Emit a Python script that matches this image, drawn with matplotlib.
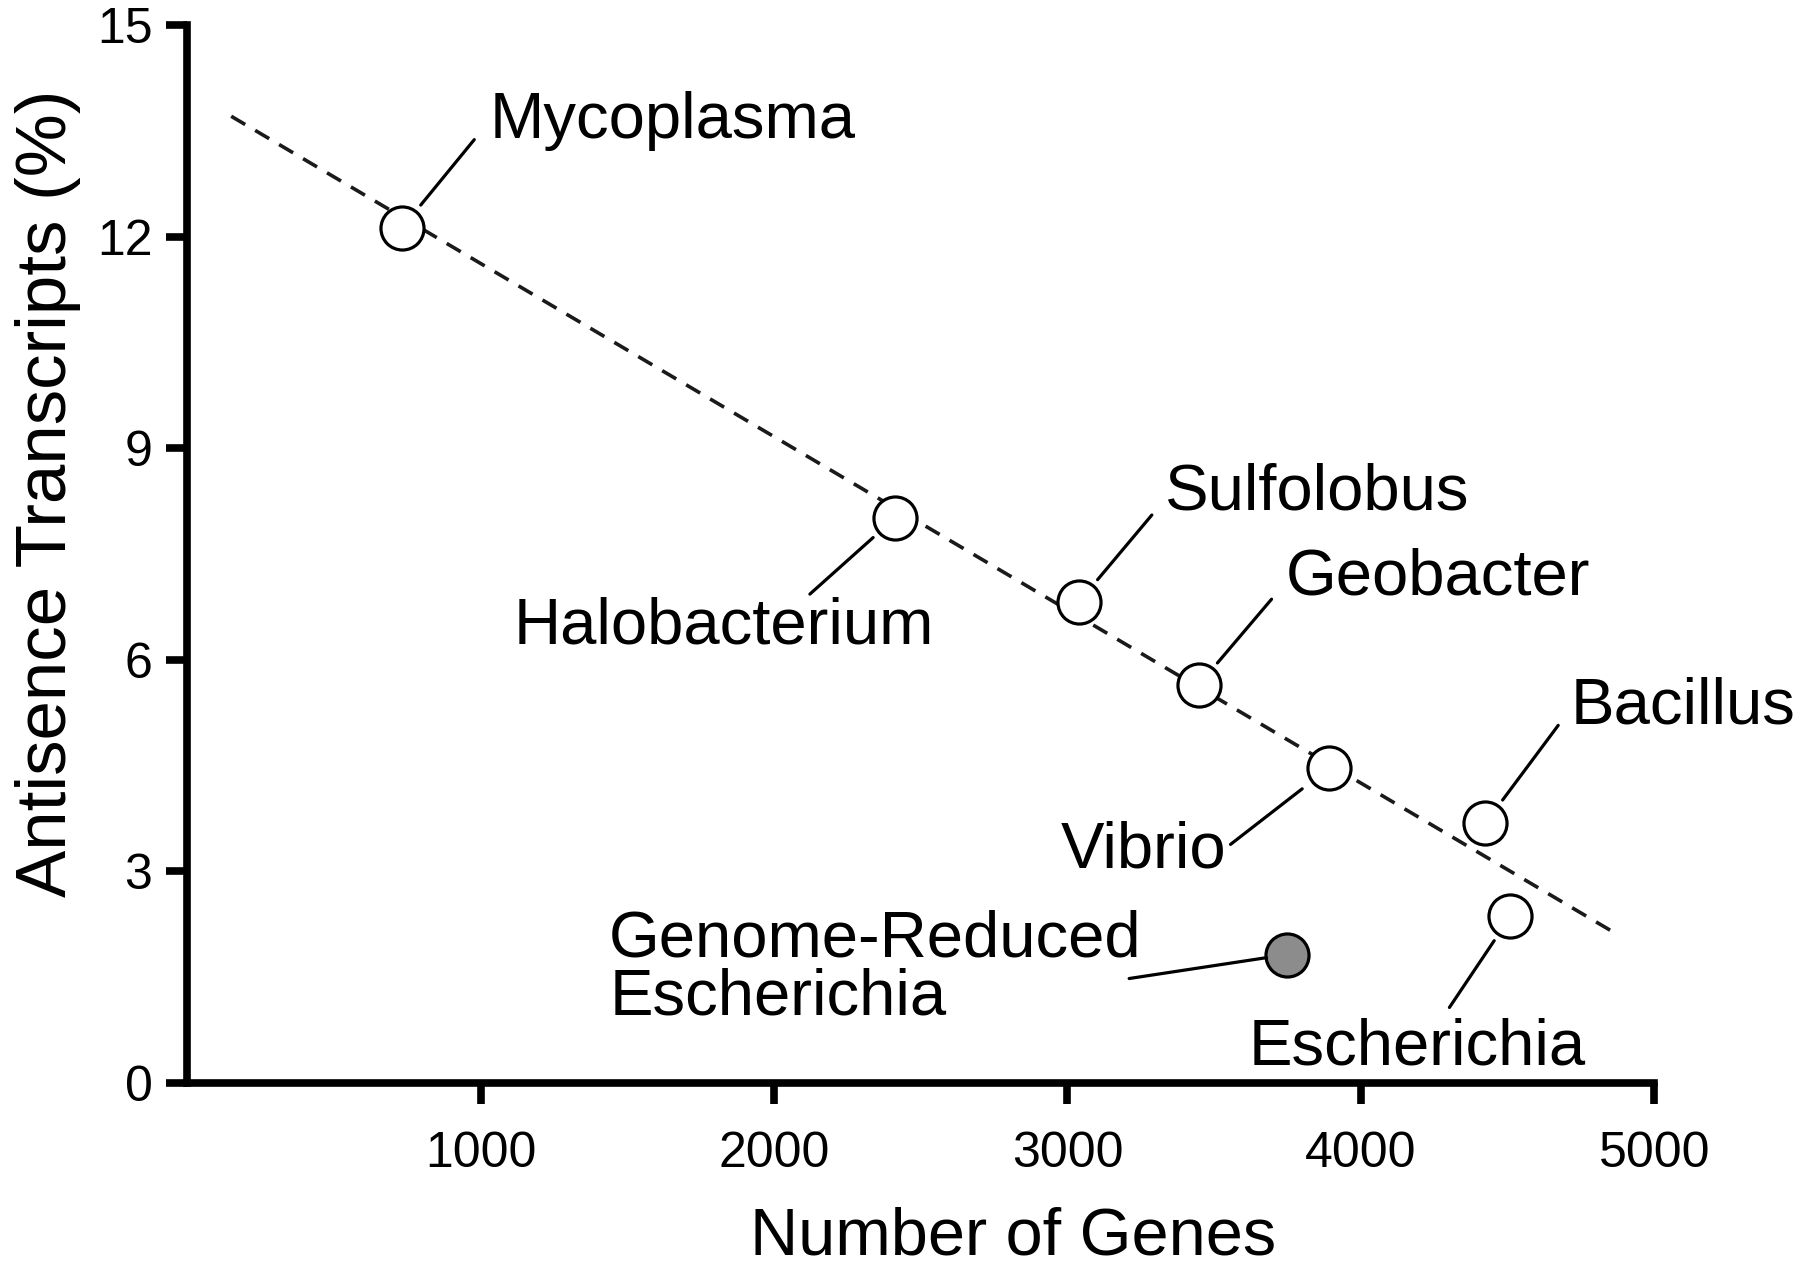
import matplotlib
matplotlib.use("Agg")
import matplotlib.pyplot as plt

# ---------------------------------------------------------------------------
# Data
# ---------------------------------------------------------------------------
species = ["Mycoplasma", "Halobacterium", "Sulfolobus", "Geobacter",
           "Vibrio", "Bacillus", "Escherichia"]
genes = [733, 2412, 3039, 3447, 3890, 4424, 4510]
antisense = [12.13, 8.01, 6.82, 5.64, 4.46, 3.68, 2.36]

reduced_name = "Genome-Reduced\nEscherichia"
reduced_genes = [3749]
reduced_antisense = [1.82]

fit_x = [150, 4860]
fit_y = [13.71, 2.14]

x_ticks = [1000, 2000, 3000, 4000, 5000]
y_ticks = [0, 3, 6, 9, 12, 15]

# label layout: (text offset px, ha, leader end offset px, leader gap pt)
label_layout = {
    "Mycoplasma":    ((87, 90), "left", (72, 88), 21),
    "Halobacterium": ((-381, -125), "left", (-85, -76), 21),
    "Sulfolobus":    ((86, 93), "left", (73, 87), 21),
    "Geobacter":     ((87, 91), "left", (73, 86), 21),
    "Vibrio":        ((-102, -99), "right", (-98, -76), 24),
    "Bacillus":      ((85, 100), "left", (73, 98), 21),
    "Escherichia":   ((-262, -148), "left", (-61, -91), 21),
}

plt.rcParams["font.family"] = ["Liberation Sans", "DejaVu Sans"]

fig = plt.figure(figsize=(18, 12.65), dpi=100)
ax = fig.add_axes([0.104, 0.144, 0.815, 0.836])

# trend line
ax.plot(fit_x, fit_y, color="#1a1a1a", linestyle=(0, (4.5, 3.2)), linewidth=2.6,
        zorder=1)
ax.plot(genes, antisense, "o", markersize=31, markerfacecolor="white",
        markeredgecolor="black", markeredgewidth=2.3, zorder=3)
ax.plot(reduced_genes, reduced_antisense, "o", markersize=31,
        markerfacecolor="#8c8c8c", markeredgecolor="black",
        markeredgewidth=2.3, zorder=3)

for name, gx, gy in zip(species, genes, antisense):
    (tx, ty), ha, (lx, ly), gap = label_layout[name]
    ax.annotate("", xy=(gx, gy), xytext=(lx, ly), textcoords="offset pixels",
                arrowprops=dict(arrowstyle="-", color="black", lw=2.3,
                                shrinkA=0, shrinkB=gap))
    ax.annotate(name, xy=(gx, gy), xytext=(tx, ty), textcoords="offset pixels",
                ha=ha, va="baseline", fontsize=47)

ax.annotate("", xy=(reduced_genes[0], reduced_antisense[0]),
            xytext=(-158, -24), textcoords="offset pixels",
            arrowprops=dict(arrowstyle="-", color="black", lw=2.3,
                            shrinkA=0, shrinkB=15))
ax.annotate(reduced_name, xy=(reduced_genes[0], reduced_antisense[0]),
            xytext=(-678, -14), textcoords="offset pixels",
            ha="left", va="center", fontsize=47, linespacing=0.95)

ax.set_xlim(0, 5000)
ax.set_ylim(0, 15)
ax.set_xticks(x_ticks)
ax.set_yticks(y_ticks)
for s in ["top", "right"]:
    ax.spines[s].set_visible(False)
for s in ["left", "bottom"]:
    ax.spines[s].set_linewidth(5.5)
ax.tick_params(axis="both", width=5.5, length=15, labelsize=36)
ax.tick_params(axis="x", pad=20)
ax.tick_params(axis="y", pad=10)

ax.set_xlabel("Number of Genes", fontsize=48)
ax.xaxis.set_label_coords(0.563, -0.146)
ax.xaxis.label.set_va("center")
ax.set_ylabel("Antisence Transcripts (%)", fontsize=51)
ax.yaxis.set_label_coords(-0.095, 0.557)
ax.yaxis.label.set_va("center")

fig.savefig("out.png", dpi=100)
